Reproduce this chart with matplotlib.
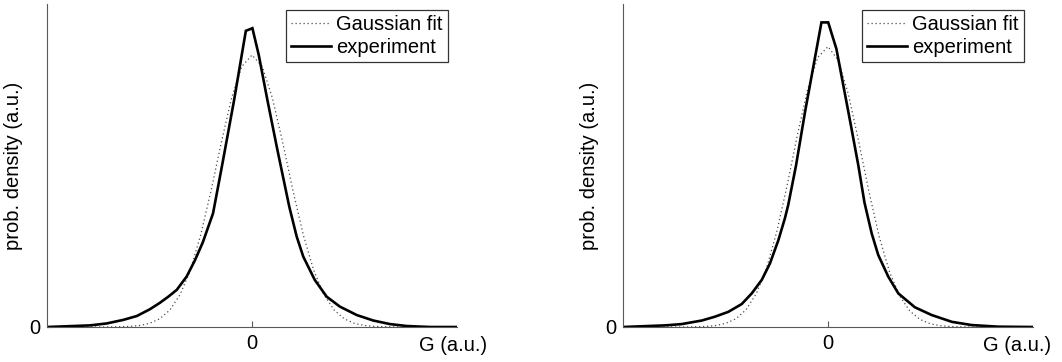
import matplotlib
matplotlib.use("Agg")
import matplotlib.pyplot as plt

plt.rcParams['font.family'] = ['Liberation Sans', 'DejaVu Sans']

# ---------------- data ----------------
# Gaussian fit samples (x in a.u., axis spans -1..1, y normalised)
gauss_x = [-1.0, -0.70, -0.60, -0.55, -0.50, -0.45, -0.40, -0.35, -0.30, -0.25,
           -0.20, -0.15, -0.10, -0.05, 0.00, 0.05, 0.10, 0.15, 0.20, 0.25,
           0.30, 0.35, 0.40, 0.45, 0.50, 0.55, 0.60, 0.70, 1.0]
gauss_left_y = [0.0, 0.0002, 0.0017, 0.0045, 0.0111, 0.0254, 0.0529, 0.1011, 0.1775, 0.2856,
                0.4215, 0.5705, 0.7082, 0.8064, 0.842, 0.8064, 0.7082, 0.5705, 0.4215, 0.2856,
                0.1775, 0.1011, 0.0529, 0.0254, 0.0111, 0.0045, 0.0017, 0.0002, 0.0]
gauss_right_y = [0.0, 0.0001, 0.0016, 0.0043, 0.0109, 0.0252, 0.0532, 0.1029, 0.1819, 0.2945,
                 0.4364, 0.592, 0.7348, 0.8347, 0.868, 0.8258, 0.7193, 0.5734, 0.4183, 0.2793,
                 0.1708, 0.0954, 0.0489, 0.0229, 0.0098, 0.0038, 0.0014, 0.0001, 0.0]

exp_left_x = [-1.0, -0.872, -0.790, -0.709, -0.628, -0.562, -0.498, -0.449, -0.408, -0.367,
              -0.319, -0.278, -0.240, -0.190, -0.146, -0.088, -0.030, 0.002, 0.033, 0.075,
              0.124, 0.182, 0.218, 0.250, 0.306, 0.364, 0.429, 0.511, 0.592, 0.673,
              0.755, 0.868, 1.0]
exp_left_y = [0.0, 0.003, 0.005, 0.011, 0.022, 0.034, 0.055, 0.075, 0.094, 0.115,
              0.156, 0.207, 0.262, 0.352, 0.500, 0.700, 0.917, 0.925, 0.842, 0.703,
              0.548, 0.372, 0.280, 0.218, 0.146, 0.094, 0.063, 0.037, 0.020, 0.009,
              0.003, 0.0, 0.0]

exp_right_x = [-1.0, -0.877, -0.795, -0.714, -0.616, -0.551, -0.486, -0.421, -0.372, -0.323,
               -0.283, -0.242, -0.210, -0.194, -0.156, -0.112, -0.032, 0.001, 0.041, 0.110,
               0.148, 0.178, 0.213, 0.245, 0.294, 0.343, 0.424, 0.506, 0.604, 0.701,
               0.831, 1.0]
exp_right_y = [0.0, 0.003, 0.005, 0.009, 0.020, 0.032, 0.047, 0.071, 0.104, 0.146,
               0.197, 0.269, 0.337, 0.378, 0.500, 0.666, 0.943, 0.943, 0.861, 0.630,
               0.500, 0.385, 0.290, 0.223, 0.156, 0.104, 0.061, 0.037, 0.016, 0.006,
               0.001, 0.0]

x_ticks = [0]
x_tick_labels = ['0']
y_ticks = [0]
y_tick_labels = ['0']
legend_labels = ['Gaussian fit', 'experiment']
x_label = 'G (a.u.)'
y_label = 'prob. density (a.u.)'

# ---------------- figure ----------------
W, H = 1062, 362
fig = plt.figure(figsize=(W / 100, H / 100), dpi=100)

panels = [
    dict(left=47, gx=gauss_x, gy=gauss_left_y, ex=exp_left_x, ey=exp_left_y, xlab_pos=0.99),
    dict(left=623, gx=gauss_x, gy=gauss_right_y, ex=exp_right_x, ey=exp_right_y, xlab_pos=0.962),
]
ax_w, ax_top, ax_bot = 410, 4, 327
FS = 14.5
spine_col = '0.35'

for p in panels:
    ax = fig.add_axes([p['left'] / W, (H - ax_bot) / H, ax_w / W, (ax_bot - ax_top) / H])
    ax.plot(p['gx'], p['gy'], color='0.3', lw=0.9, linestyle=(0, (1, 2.2)),
            label=legend_labels[0])
    ax.plot(p['ex'], p['ey'], color='black', lw=1.9, solid_joinstyle='miter',
            label=legend_labels[1])
    ax.set_xlim(-1, 1)
    ax.set_ylim(0, 1)
    for s in ('top', 'right'):
        ax.spines[s].set_visible(False)
    for s in ('left', 'bottom'):
        ax.spines[s].set_color(spine_col)
        ax.spines[s].set_linewidth(0.8)
    ax.set_xticks(x_ticks)
    ax.set_xticklabels(x_tick_labels)
    ax.set_yticks(y_ticks)
    ax.set_yticklabels(y_tick_labels)
    ax.tick_params(direction='in', length=4, width=0.8, color=spine_col,
                   labelsize=FS, pad=5)
    ax.set_ylabel(y_label, fontsize=FS, labelpad=4)
    ax.text(p['xlab_pos'], -0.056, x_label, transform=ax.transAxes,
            ha='center', va='center', fontsize=FS)
    leg = ax.legend(loc='upper right', bbox_to_anchor=(1 - 9 / ax_w, 1 - 6 / 323),
                    borderaxespad=0, fontsize=FS, frameon=True, fancybox=False,
                    edgecolor='black', handlelength=2.0, handletextpad=0.25,
                    borderpad=0.25, labelspacing=0.2)
    leg.get_frame().set_linewidth(0.9)

fig.savefig('out.png', dpi=100)
